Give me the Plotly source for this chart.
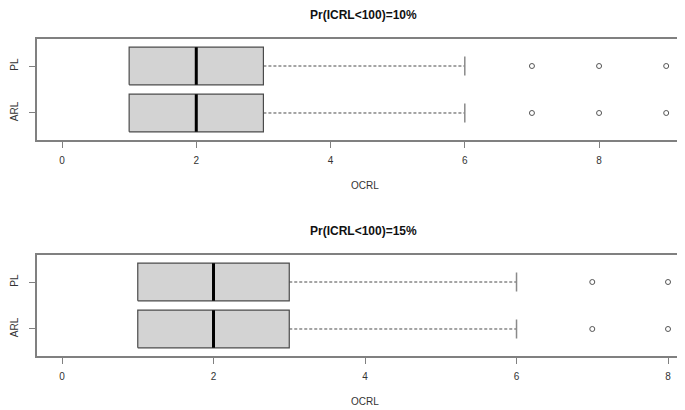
import plotly.graph_objects as go

# ---------------- data ----------------
categories = ["ARL", "PL"]

titles = ["Pr(ICRL<100)=10%", "Pr(ICRL<100)=15%"]
x_label = "OCRL"
x_tickvals = [0, 2, 4, 6, 8]

# panel 1 (10%)
p1_lower = [1, 1]
p1_q1 = [1, 1]
p1_median = [2, 2]
p1_q3 = [3, 3]
p1_upper = [6, 6]
p1_outliers = [[7, 8, 9], [7, 8, 9]]

# panel 2 (15%)
p2_lower = [1, 1]
p2_q1 = [1, 1]
p2_median = [2, 2]
p2_q3 = [3, 3]
p2_upper = [6, 6]
p2_outliers = [[7, 8], [7, 8]]

panels = [
    dict(lower=p1_lower, q1=p1_q1, med=p1_median, q3=p1_q3, upper=p1_upper, out=p1_outliers),
    dict(lower=p2_lower, q1=p2_q1, med=p2_median, q3=p2_q3, upper=p2_upper, out=p2_outliers),
]

# ---------------- style ----------------
OFF = 8  # page body margin
W, H = 685 - OFF, 410 - OFF
FONT = "Liberation Sans, Arial, sans-serif"
FRAME = "#808080"
BOXLINE = "#4a4a4a"
FILL = "#d3d3d3"
BOXHALF = 0.4
STAPLEHALF = 0.2

# pixel layout (measured in window pixels)
frame_left = 36.7 - OFF
frames = [(39 - OFF, 140 - OFF), (255 - OFF, 356 - OFF)]
x_ranges = [[-0.377, 9.28], [-0.334, 8.224]]
y_range = [0.425, 2.575]
title_y = [15 - OFF, 231 - OFF]
xlabel_y = [185 - OFF, 401 - OFF]
center_x = 363 - OFF

fig = go.Figure()

for k, p in enumerate(panels):
    xa = "x" if k == 0 else "x2"
    ya = "y" if k == 0 else "y2"
    for i, cat in enumerate(categories):
        pos = i + 1
        q1, q3, med, up = p["q1"][i], p["q3"][i], p["med"][i], p["upper"][i]
        # whisker (dashed)
        fig.add_trace(go.Scatter(
            x=[q3, up], y=[pos, pos], mode="lines", xaxis=xa, yaxis=ya,
            line=dict(color=BOXLINE, width=1, dash="3px,2px"),
            hoverinfo="skip", showlegend=False))
        # staple
        fig.add_trace(go.Scatter(
            x=[up, up], y=[pos - STAPLEHALF, pos + STAPLEHALF], mode="lines",
            xaxis=xa, yaxis=ya, line=dict(color="#8a8a8a", width=1.5),
            hoverinfo="skip", showlegend=False))
        # box
        fig.add_trace(go.Scatter(
            x=[q1, q3, q3, q1, q1],
            y=[pos - BOXHALF, pos - BOXHALF, pos + BOXHALF, pos + BOXHALF, pos - BOXHALF],
            mode="lines", fill="toself", fillcolor=FILL, xaxis=xa, yaxis=ya,
            line=dict(color=BOXLINE, width=1.2), name=cat,
            hoverinfo="skip", showlegend=False))
        # median
        fig.add_trace(go.Scatter(
            x=[med, med], y=[pos - BOXHALF, pos + BOXHALF], mode="lines",
            xaxis=xa, yaxis=ya, line=dict(color="#000000", width=3),
            hoverinfo="skip", showlegend=False))
        # outliers
        outs = p["out"][i]
        fig.add_trace(go.Scatter(
            x=outs, y=[pos] * len(outs), mode="markers", xaxis=xa, yaxis=ya,
            marker=dict(symbol="circle-open", size=5, color="#555555",
                        line=dict(width=1, color="#555555")),
            hoverinfo="skip", showlegend=False))

def xaxis_cfg(k):
    return dict(
        domain=[frame_left / W, 1.0], range=x_ranges[k], anchor="y" if k == 0 else "y2",
        tickvals=x_tickvals, ticks="outside", ticklen=6, tickwidth=1, tickcolor=FRAME,
        showline=True, linecolor=FRAME, linewidth=1.5, mirror=True,
        showgrid=False, zeroline=False, ticklabelstandoff=4,
        tickfont=dict(family=FONT, size=10, color="#333333"))

def yaxis_cfg(k):
    top, bot = frames[k]
    return dict(
        domain=[1 - bot / H, 1 - top / H], range=y_range, anchor="x" if k == 0 else "x2",
        tickvals=[1, 2], ticktext=categories, tickangle=-90,
        ticks="outside", ticklen=6, tickwidth=1, tickcolor=FRAME,
        showline=True, linecolor=FRAME, linewidth=1.5, mirror=False,
        showgrid=False, zeroline=False, ticklabelstandoff=7,
        tickfont=dict(family=FONT, size=10, color="#333333"))

annotations = []
for k in range(2):
    annotations.append(dict(
        text="<b>" + titles[k] + "</b>", x=center_x / W, y=1 - title_y[k] / H,
        xref="paper", yref="paper", xanchor="center", yanchor="middle",
        showarrow=False, font=dict(family=FONT, size=12, color="#111111")))
    annotations.append(dict(
        text=x_label, x=(center_x + 1.5) / W, y=1 - xlabel_y[k] / H,
        xref="paper", yref="paper", xanchor="center", yanchor="middle",
        showarrow=False, font=dict(family=FONT, size=10, color="#333333")))

fig.update_layout(
    width=W, height=H,
    margin=dict(l=0, r=0, t=0, b=0),
    paper_bgcolor="white", plot_bgcolor="white",
    xaxis=xaxis_cfg(0), yaxis=yaxis_cfg(0),
    xaxis2=xaxis_cfg(1), yaxis2=yaxis_cfg(1),
    annotations=annotations,
    showlegend=False,
)

fig.write_html("out.html")
